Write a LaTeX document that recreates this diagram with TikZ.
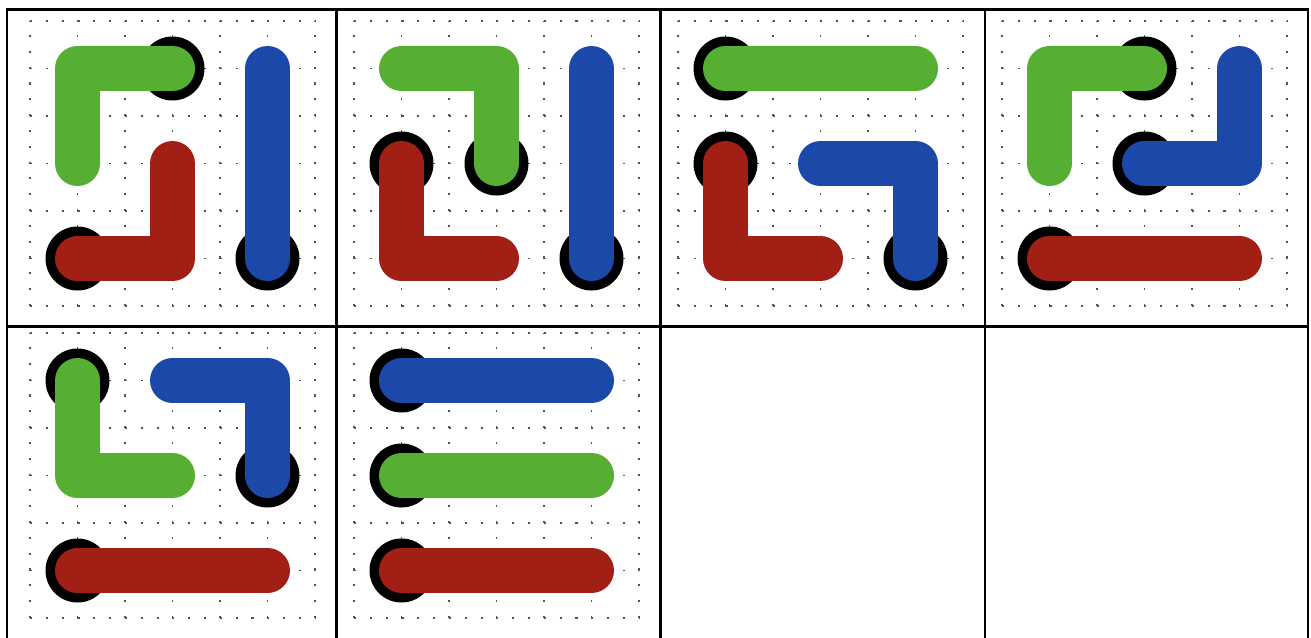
\documentclass[tikz,border=0pt]{standalone}
\definecolor{FlowGreen}{HTML}{56AE33}
\definecolor{FlowRed}{HTML}{A21F16}
\definecolor{FlowBlue}{HTML}{1C49A9}
\definecolor{FlowGray}{HTML}{555555}
\usepackage{tikz}
\tikzset{
    % Panel frame
    panelframe/.style={
        draw=black,
        line width=0.7pt
    },
    % Dotted guide grid of a board
    guidegrid/.style={
        draw=FlowGray,
        line width=0.35pt,
        dash pattern=on 0.6pt off 3.9pt
    },
    % Board scope: one unit is one cell
    board/.style={
        x=0.95cm,
        y=0.95cm
    },
    % Endpoint disk
    enddot/.style={
        fill=black
    },
    % Pipe styles
    pipe/.style={
        line width=0.45cm,
        line cap=round,
        line join=round
    },
    greenpipe/.style={pipe, draw=FlowGreen},
    redpipe/.style={pipe, draw=FlowRed},
    bluepipe/.style={pipe, draw=FlowBlue}
}

\begin{document}
\begin{tikzpicture}
    \clip (0,0) rectangle (13.11,6.37);

    % Panel frames
    \draw[panelframe] (0.07,3.105) rectangle (3.365,6.275);
    \draw[panelframe] (3.365,3.105) rectangle (6.605,6.275);
    \draw[panelframe] (6.605,3.105) rectangle (9.85,6.275);
    \draw[panelframe] (9.85,3.105) rectangle (13.08,6.275);
    \draw[panelframe] (0.07,-0.065) rectangle (3.365,3.105);
    \draw[panelframe] (3.365,-0.065) rectangle (6.605,3.105);
    \draw[panelframe] (6.605,-0.065) rectangle (9.85,3.105);
    \draw[panelframe] (9.85,-0.065) rectangle (13.08,3.105);

    % Board 1
    \begin{scope}[shift={(0.30,3.31)}, board]
        \draw[guidegrid] (0,0) grid[step=0.5] (3.001,3.001);
        \fill[enddot] (1.5,2.5) circle[radius=0.32cm];
        \fill[enddot] (0.5,0.5) circle[radius=0.32cm];
        \fill[enddot] (2.5,0.5) circle[radius=0.32cm];
        \draw[greenpipe] (0.5,1.5) -- (0.5,2.5) -- (1.5,2.5);
        \draw[redpipe] (0.5,0.5) -- (1.5,0.5) -- (1.5,1.5);
        \draw[bluepipe] (2.5,2.5) -- (2.5,0.5);
    \end{scope}

    % Board 2
    \begin{scope}[shift={(3.54,3.31)}, board]
        \draw[guidegrid] (0,0) grid[step=0.5] (3.001,3.001);
        \fill[enddot] (1.5,1.5) circle[radius=0.32cm];
        \fill[enddot] (0.5,1.5) circle[radius=0.32cm];
        \fill[enddot] (2.5,0.5) circle[radius=0.32cm];
        \draw[greenpipe] (0.5,2.5) -- (1.5,2.5) -- (1.5,1.5);
        \draw[redpipe] (0.5,1.5) -- (0.5,0.5) -- (1.5,0.5);
        \draw[bluepipe] (2.5,2.5) -- (2.5,0.5);
    \end{scope}

    % Board 3
    \begin{scope}[shift={(6.78,3.31)}, board]
        \draw[guidegrid] (0,0) grid[step=0.5] (3.001,3.001);
        \fill[enddot] (0.5,2.5) circle[radius=0.32cm];
        \fill[enddot] (0.5,1.5) circle[radius=0.32cm];
        \fill[enddot] (2.5,0.5) circle[radius=0.32cm];
        \draw[greenpipe] (0.5,2.5) -- (2.5,2.5);
        \draw[redpipe] (0.5,1.5) -- (0.5,0.5) -- (1.5,0.5);
        \draw[bluepipe] (1.5,1.5) -- (2.5,1.5) -- (2.5,0.5);
    \end{scope}

    % Board 4
    \begin{scope}[shift={(10.02,3.31)}, board]
        \draw[guidegrid] (0,0) grid[step=0.5] (3.001,3.001);
        \fill[enddot] (1.5,2.5) circle[radius=0.32cm];
        \fill[enddot] (1.5,1.5) circle[radius=0.32cm];
        \fill[enddot] (0.5,0.5) circle[radius=0.32cm];
        \draw[greenpipe] (0.5,1.5) -- (0.5,2.5) -- (1.5,2.5);
        \draw[bluepipe] (1.5,1.5) -- (2.5,1.5) -- (2.5,2.5);
        \draw[redpipe] (0.5,0.5) -- (2.5,0.5);
    \end{scope}

    % Board 5
    \begin{scope}[shift={(0.30,0.19)}, board]
        \draw[guidegrid] (0,0) grid[step=0.5] (3.001,3.001);
        \fill[enddot] (0.5,2.5) circle[radius=0.32cm];
        \fill[enddot] (2.5,1.5) circle[radius=0.32cm];
        \fill[enddot] (0.5,0.5) circle[radius=0.32cm];
        \draw[greenpipe] (0.5,2.5) -- (0.5,1.5) -- (1.5,1.5);
        \draw[bluepipe] (1.5,2.5) -- (2.5,2.5) -- (2.5,1.5);
        \draw[redpipe] (0.5,0.5) -- (2.5,0.5);
    \end{scope}

    % Board 6
    \begin{scope}[shift={(3.54,0.19)}, board]
        \draw[guidegrid] (0,0) grid[step=0.5] (3.001,3.001);
        \fill[enddot] (0.5,2.5) circle[radius=0.32cm];
        \fill[enddot] (0.5,1.5) circle[radius=0.32cm];
        \fill[enddot] (0.5,0.5) circle[radius=0.32cm];
        \draw[bluepipe] (0.5,2.5) -- (2.5,2.5);
        \draw[greenpipe] (0.5,1.5) -- (2.5,1.5);
        \draw[redpipe] (0.5,0.5) -- (2.5,0.5);
    \end{scope}
\end{tikzpicture}
\end{document}
